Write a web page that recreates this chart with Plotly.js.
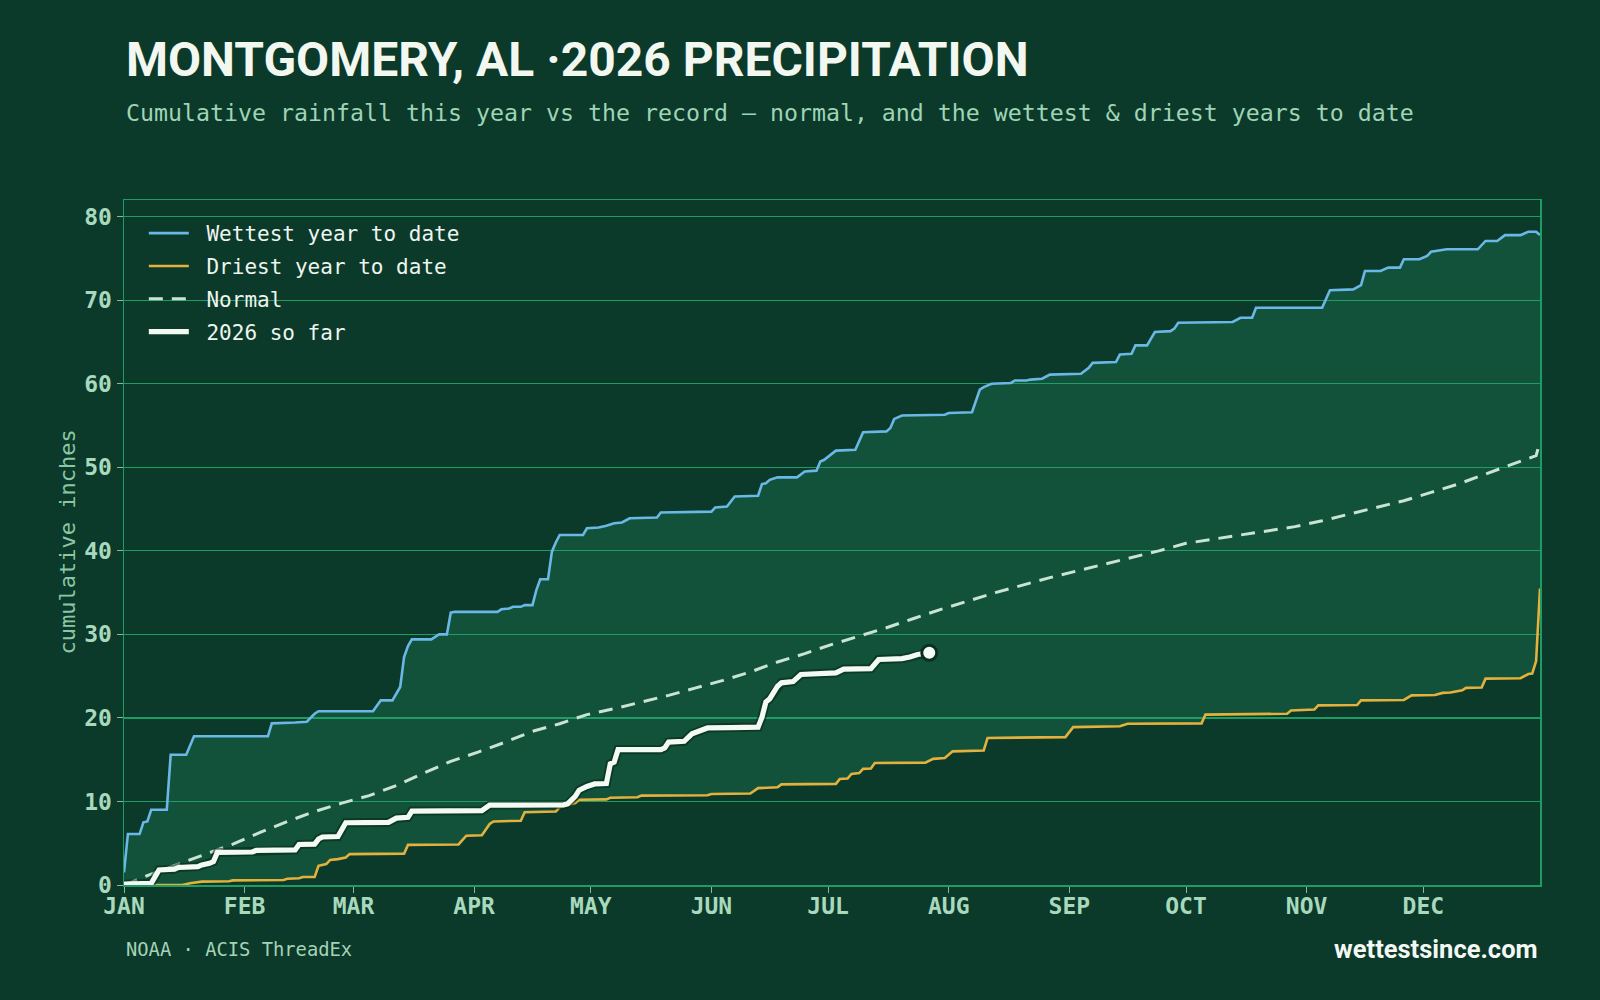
<!DOCTYPE html>
<html>
<head>
<meta charset="utf-8">
<script src="https://cdn.plot.ly/plotly-3.0.1.min.js"></script>
<style>
  html, body { margin: 0; padding: 0; background: #0b3a2a; }
  #chart { width: 1600px; height: 1000px; }
</style>
</head>
<body>
<div id="chart"></div>
<script>
// ---------- DATA ----------
const monthTicks = ["2026-01-01","2026-02-01","2026-03-01","2026-04-01","2026-05-01","2026-06-01",
                    "2026-07-01","2026-08-01","2026-09-01","2026-10-01","2026-11-01","2026-12-01"];
const monthLabels = ["JAN","FEB","MAR","APR","MAY","JUN","JUL","AUG","SEP","OCT","NOV","DEC"];
const yTicks = [0,10,20,30,40,50,60,70,80];

// Wettest year to date (cumulative inches)
const wettestDates = ["2026-01-01","2026-01-02","2026-01-05","2026-01-06","2026-01-07","2026-01-08","2026-01-12","2026-01-13",
  "2026-01-17","2026-01-19","2026-02-07","2026-02-08","2026-02-14","2026-02-17","2026-02-19","2026-02-20",
  "2026-03-06","2026-03-07","2026-03-08","2026-03-11","2026-03-12","2026-03-13","2026-03-14","2026-03-15","2026-03-16",
  "2026-03-21","2026-03-22","2026-03-23","2026-03-25","2026-03-26","2026-03-27","2026-04-07","2026-04-08","2026-04-10",
  "2026-04-11","2026-04-13","2026-04-14","2026-04-16","2026-04-17","2026-04-18","2026-04-20","2026-04-21","2026-04-22",
  "2026-04-23","2026-04-29","2026-04-30","2026-05-03","2026-05-05","2026-05-07","2026-05-09","2026-05-11","2026-05-18",
  "2026-05-19","2026-06-01","2026-06-02","2026-06-05","2026-06-07","2026-06-13","2026-06-14","2026-06-15","2026-06-16",
  "2026-06-18","2026-06-23","2026-06-25","2026-06-28","2026-06-29","2026-06-30","2026-07-02","2026-07-03","2026-07-08",
  "2026-07-09","2026-07-10","2026-07-16","2026-07-17","2026-07-18","2026-07-20","2026-07-31","2026-08-01","2026-08-07",
  "2026-08-09","2026-08-10","2026-08-12","2026-08-17","2026-08-18","2026-08-21","2026-08-22","2026-08-25","2026-08-27",
  "2026-09-04","2026-09-06","2026-09-07","2026-09-13","2026-09-14","2026-09-17","2026-09-18","2026-09-21","2026-09-22",
  "2026-09-23","2026-09-27","2026-09-28","2026-09-29","2026-10-13","2026-10-15","2026-10-18","2026-10-19","2026-11-05",
  "2026-11-07","2026-11-13","2026-11-15","2026-11-16","2026-11-20","2026-11-22","2026-11-25","2026-11-26","2026-11-30",
  "2026-12-02","2026-12-03","2026-12-06","2026-12-07","2026-12-15","2026-12-17","2026-12-20","2026-12-22","2026-12-26",
  "2026-12-28","2026-12-30","2026-12-31"];
const wettestValues = [1.5,6.1,6.1,7.5,7.6,9.0,9.0,15.6,
  15.6,17.8,17.8,19.35,19.45,19.55,20.5,20.8,
  20.8,21.4,22.1,22.1,22.9,23.7,27.3,28.6,29.4,
  29.4,29.7,30.0,30.0,32.6,32.7,32.7,33.0,33.1,
  33.3,33.3,33.5,33.5,35.3,36.6,36.6,39.9,41.0,
  41.9,41.9,42.7,42.8,43.0,43.3,43.4,43.9,44.0,
  44.6,44.7,45.2,45.3,46.5,46.6,48.0,48.1,48.5,
  48.8,48.8,49.5,49.6,50.7,50.9,51.6,52.0,52.1,
  53.2,54.2,54.3,54.7,55.8,56.2,56.3,56.5,56.6,
  59.3,59.6,60.0,60.1,60.4,60.4,60.5,60.6,61.1,
  61.2,61.9,62.5,62.6,63.5,63.6,64.6,64.6,65.4,
  66.2,66.3,66.6,67.3,67.4,67.9,67.9,69.1,69.1,
  71.2,71.3,71.8,73.5,73.5,73.9,73.9,74.9,74.9,
  75.3,75.8,76.0,76.1,76.1,77.1,77.1,77.8,77.8,
  78.2,78.2,77.8];

// Driest year to date
const driestDates = ["2026-01-01","2026-01-16","2026-01-18","2026-01-21","2026-01-28","2026-01-29","2026-02-11","2026-02-12",
  "2026-02-15","2026-02-16","2026-02-19","2026-02-20","2026-02-22","2026-02-23","2026-02-25","2026-02-27","2026-02-28",
  "2026-03-14","2026-03-15","2026-03-28","2026-03-30","2026-04-03","2026-04-05","2026-04-06","2026-04-13","2026-04-14",
  "2026-04-22","2026-04-23","2026-04-27","2026-04-28","2026-05-05","2026-05-06","2026-05-13","2026-05-14","2026-05-31",
  "2026-06-01","2026-06-11","2026-06-13","2026-06-18","2026-06-19","2026-07-03","2026-07-04","2026-07-06","2026-07-07",
  "2026-07-09","2026-07-10","2026-07-12","2026-07-13","2026-07-26","2026-07-28","2026-07-31","2026-08-02","2026-08-10",
  "2026-08-11","2026-08-31","2026-09-02","2026-09-14","2026-09-16","2026-10-05","2026-10-06","2026-10-27","2026-10-28",
  "2026-11-03","2026-11-04","2026-11-14","2026-11-15","2026-11-26","2026-11-28","2026-12-04","2026-12-06","2026-12-08",
  "2026-12-10","2026-12-11","2026-12-12","2026-12-16","2026-12-17","2026-12-26","2026-12-28","2026-12-29","2026-12-30",
  "2026-12-31"];
const driestValues = [0,0,0.2,0.4,0.45,0.55,0.6,0.75,
  0.8,0.95,0.95,2.3,2.5,3.0,3.1,3.3,3.7,
  3.75,4.8,4.85,5.9,5.95,7.3,7.6,7.7,8.7,
  8.8,9.3,9.8,10.2,10.25,10.45,10.5,10.7,10.75,
  10.9,10.95,11.6,11.7,12.05,12.1,12.7,12.75,13.3,
  13.4,13.9,13.95,14.6,14.65,15.1,15.2,16.0,16.1,
  17.6,17.7,18.9,19.0,19.3,19.35,20.4,20.5,20.9,
  21.0,21.5,21.55,22.1,22.15,22.7,22.75,23.0,23.05,
  23.25,23.3,23.6,23.65,24.7,24.75,25.25,25.3,26.8,
  35.5];

// Normal
const normalDates = ["2026-01-01","2026-01-08","2026-01-15","2026-01-22","2026-01-29","2026-02-05","2026-02-12","2026-02-19",
  "2026-02-26","2026-03-05","2026-03-12","2026-03-19","2026-03-26","2026-04-02","2026-04-09","2026-04-16","2026-04-23",
  "2026-04-30","2026-05-07","2026-05-14","2026-05-21","2026-05-28","2026-06-04","2026-06-11","2026-06-18","2026-06-25",
  "2026-07-02","2026-07-09","2026-07-16","2026-07-23","2026-07-30","2026-08-06","2026-08-13","2026-08-20","2026-08-27",
  "2026-09-03","2026-09-10","2026-09-17","2026-09-24","2026-10-01","2026-10-08","2026-10-15","2026-10-22","2026-10-29",
  "2026-11-05","2026-11-12","2026-11-19","2026-11-26","2026-12-03","2026-12-10","2026-12-17","2026-12-24","2026-12-30",
  "2026-12-31"];
const normalValues = [0,1.3,2.5,3.7,4.9,6.3,7.6,8.8,
  9.8,10.7,11.9,13.4,14.8,15.9,17.1,18.4,19.3,
  20.4,21.1,21.9,22.7,23.6,24.5,25.5,26.7,27.7,
  28.8,29.8,30.8,31.9,33.0,34.0,35.0,35.9,36.8,
  37.6,38.4,39.2,40.0,40.9,41.4,41.9,42.4,42.9,
  43.6,44.4,45.2,46.0,47.0,48.0,49.2,50.4,51.4,
  53.1];

// 2026 so far
const ytdDates = ["2026-01-01","2026-01-08","2026-01-09","2026-01-10","2026-01-14","2026-01-15","2026-01-20","2026-01-21",
  "2026-01-23","2026-01-24","2026-01-25","2026-02-03","2026-02-04","2026-02-14","2026-02-15","2026-02-19","2026-02-20",
  "2026-02-21","2026-02-25","2026-02-26","2026-02-27","2026-03-10","2026-03-12","2026-03-15","2026-03-16","2026-04-03",
  "2026-04-05","2026-04-24","2026-04-25","2026-04-27","2026-04-28","2026-04-30","2026-05-02","2026-05-05","2026-05-06",
  "2026-05-07","2026-05-08","2026-05-19","2026-05-20","2026-05-21","2026-05-25","2026-05-27","2026-05-29","2026-05-31",
  "2026-06-06","2026-06-13","2026-06-14","2026-06-15","2026-06-16","2026-06-18","2026-06-19","2026-06-22","2026-06-24",
  "2026-07-03","2026-07-05","2026-07-12","2026-07-14","2026-07-20","2026-07-22","2026-07-24","2026-07-27"];
const ytdValues = [0.1,0.2,1.0,1.8,1.9,2.1,2.2,2.4,
  2.6,2.8,3.9,3.95,4.15,4.2,4.85,4.9,5.5,
  5.75,5.8,6.6,7.45,7.5,8.0,8.1,8.85,8.9,
  9.55,9.6,9.7,10.6,11.35,11.8,12.1,12.15,14.5,
  14.7,16.2,16.2,16.4,17.1,17.2,18.1,18.4,18.8,
  18.85,18.9,20.1,21.9,22.3,23.8,24.2,24.35,25.2,
  25.4,25.85,25.9,27.0,27.1,27.3,27.6,27.8];

// ---------- STYLE ----------
const BG = '#0b3a2a';
const GRID = '#1e9c63';
const TICKTXT = '#a8d9bd';
const MONO = 'DejaVu Sans Mono, monospace';
const GAP = '\u00a0'; // extra space between legend sample and label

const traces = [
  { x: wettestDates, y: wettestValues, mode: 'lines', line: {width: 0, color: 'rgba(0,0,0,0)'},
    showlegend: false, hoverinfo: 'skip' },
  { x: driestDates, y: driestValues, mode: 'lines', line: {width: 0, color: 'rgba(0,0,0,0)'},
    fill: 'tonexty', fillcolor: 'rgba(40,154,110,0.25)', showlegend: false, hoverinfo: 'skip' },
  { x: wettestDates, y: wettestValues, mode: 'lines', name: GAP + 'Wettest year to date',
    line: {width: 2.6, color: '#6bb7e6'}, legendgroup: 'a' },
  { x: driestDates, y: driestValues, mode: 'lines', name: GAP + 'Driest year to date',
    line: {width: 2.6, color: '#e3b23e'}, legendgroup: 'b' },
  { x: normalDates, y: normalValues, mode: 'lines', name: GAP + 'Normal',
    line: {width: 3, color: '#c9e4d3', dash: '14px,9px'}, legendgroup: 'c' },
  { x: ytdDates, y: ytdValues, mode: 'lines', showlegend: false, hoverinfo: 'skip',
    line: {width: 9, color: 'rgba(6,36,24,0.55)'} },
  { x: ytdDates, y: ytdValues, mode: 'lines', name: GAP + '2026 so far',
    line: {width: 5.2, color: '#f3faf4'}, legendgroup: 'd' },
  { x: [ytdDates[ytdDates.length-1]], y: [ytdValues[ytdValues.length-1]], mode: 'markers',
    showlegend: false, hoverinfo: 'skip',
    marker: {size: 15, color: '#f5fbf6', line: {width: 3, color: '#0a2e20'}} }
];

const layout = {
  width: 1600, height: 1000,
  paper_bgcolor: BG, plot_bgcolor: BG,
  margin: {l: 124, r: 60, t: 200, b: 115, pad: 0},
  title: {
    text: 'MONTGOMERY, AL ·2026 PRECIPITATION',
    x: 126/1600, xref: 'container', xanchor: 'left',
    y: 1 - 59/1000, yref: 'container', yanchor: 'middle',
    font: {family: 'Roboto, sans-serif', size: 48, weight: 700, color: '#f2f7f0'}
  },
  xaxis: {
    type: 'date', range: ['2026-01-01', '2026-12-31'],
    tickmode: 'array', tickvals: monthTicks, ticktext: monthLabels,
    ticks: '', ticklen: 0,
    minor: {tickmode: 'array', tickvals: monthTicks, ticks: 'outside', ticklen: 6,
            tickwidth: 1, tickcolor: '#8fb5a0', showgrid: false},
    showgrid: false, zeroline: false,
    showline: true, mirror: true, linecolor: GRID, linewidth: 1.5,
    tickfont: {family: MONO, size: 23, weight: 700, color: TICKTXT},
    fixedrange: true
  },
  yaxis: {
    range: [0, 82], tickmode: 'array', tickvals: yTicks,
    ticks: 'outside', ticklen: 6, tickwidth: 1, tickcolor: '#8fb5a0',
    showgrid: true, gridcolor: GRID, gridwidth: 1.2, zeroline: false,
    showline: true, mirror: true, linecolor: GRID, linewidth: 1.5,
    tickfont: {family: MONO, size: 23, weight: 700, color: TICKTXT},
    fixedrange: true
  },
  legend: {
    x: 0.014, y: 0.981, xanchor: 'left', yanchor: 'top',
    bgcolor: 'rgba(0,0,0,0)', borderwidth: 0,
    font: {family: MONO, size: 21, color: '#eef5ef'},
    tracegroupgap: 2.5, itemwidth: 40
  },
  annotations: [
    { text: 'Cumulative rainfall this year vs the record — normal, and the wettest &amp; driest years to date',
      xref: 'paper', yref: 'paper', x: 0, y: (885-113)/685, xanchor: 'left', yanchor: 'middle',
      showarrow: false, font: {family: MONO, size: 23.25, color: '#9fd4b5'} },
    { text: 'cumulative inches', xref: 'paper', yref: 'paper', x: (67-124)/1416, y: 0.5,
      xanchor: 'center', yanchor: 'middle', textangle: -90, showarrow: false,
      font: {family: MONO, size: 22, color: '#8cc6a4'} },
    { text: 'NOAA · ACIS ThreadEx', xref: 'paper', yref: 'paper', x: 0, y: (885-949)/685,
      xanchor: 'left', yanchor: 'middle', showarrow: false,
      font: {family: MONO, size: 18.8, color: '#a5d3b8'} },
    { text: 'wettestsince.com', xref: 'paper', yref: 'paper', x: 1, y: (885-949)/685,
      xanchor: 'right', yanchor: 'middle', showarrow: false,
      font: {family: 'Roboto, sans-serif', size: 25.5, weight: 700, color: '#f4f8f4'} }
  ],
  showlegend: true
};

Plotly.newPlot('chart', traces, layout, {staticPlot: true, displayModeBar: false});
</script>
</body>
</html>
